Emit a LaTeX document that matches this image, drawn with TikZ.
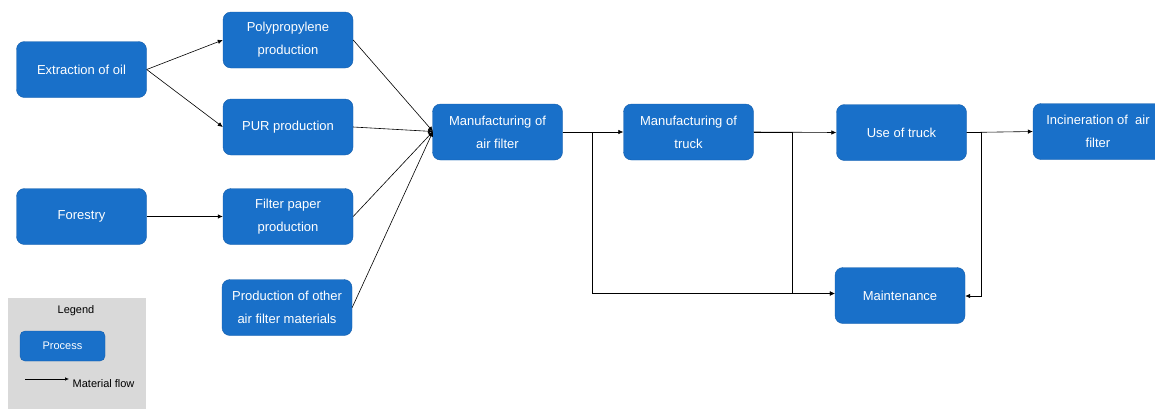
\documentclass[tikz,border=0pt]{standalone}
\usepackage{fontspec}
\setmainfont{Liberation Sans}
\usetikzlibrary{arrows.meta}
\definecolor{procfill}{RGB}{25,112,201}
\definecolor{procline}{RGB}{20,94,172}
\definecolor{legendgray}{RGB}{217,217,217}
\tikzset{
  process/.style={draw=procline, fill=procfill, rounded corners=8pt,
    minimum width=130pt, minimum height=56pt, text=white,
    font=\fontsize{13}{23}\selectfont, align=center, inner sep=2pt},
  flow/.style={draw=black, line width=0.6pt, -{Latex[length=5pt,width=4.5pt]}},
}
\begin{document}
\begin{tikzpicture}[x=1pt,y=-1pt]
\clip (0,0) rectangle (1155,408);
\fill[white] (0,0) rectangle (1155,408);

% legend panel
\fill[legendgray] (8,298) rectangle (146,410);
\node[font=\fontsize{11}{12}\selectfont] (legtitle) at (76,311) {Legend};
\node[process, minimum width=85pt, minimum height=30pt, rounded corners=5pt,
  font=\fontsize{11}{12}\selectfont] (legproc) at (62.5,346) {Process};
\coordinate (legA) at (25,379);
\coordinate (legB) at (69,379);
\draw[flow, -{Latex[length=4pt,width=3.5pt]}] (legA) -- (legB);
\node[anchor=west, font=\fontsize{11}{12}\selectfont, inner sep=0pt] (legflow) at (72.5,383.5) {Material flow};

% process boxes
\node[process] (oil)    at (81.5,69.5)  {Extraction of oil};
\node[process] (forest) at (81.5,216.5) {Forestry};
\node[process] (pp)     at (288,40)     {Polypropylene\\production};
\node[process] (pur)    at (288,127)    {PUR production};
\node[process] (paper)  at (288,216.5)  {Filter paper\\production};
\node[process] (other)  at (287,307.5)  {Production of other\\air filter materials};
\node[process] (afil)   at (497.5,132)  {Manufacturing of\\air filter};
\node[process] (truck)  at (688.5,132)  {Manufacturing of\\truck};
\node[process] (use)    at (901.5,132.5){Use of truck};
\node[process] (inc)    at (1098,131.5) {Incineration of \ air\\filter};
\node[process] (maint)  at (900,295.5)  {Maintenance};

% material flows
\coordinate (conv) at (433,131.5);
\draw[flow] (oil.east) -- (pp.west);
\draw[flow] (oil.east) -- (pur.west);
\draw[flow] (forest.east) -- (paper.west);
\draw[flow] (pp.east) -- (conv);
\draw[flow] (pur.east) -- (conv);
\draw[flow] (paper.east) -- (conv);
\draw[flow] (other.east) -- (conv);
\draw[flow] (afil.east) -- (truck.west);
\draw[flow] (afil.east) -| (592,293.5) -- (maint.west |- 0,293.5);
\draw[flow] (truck.east) -- (use.west);
\draw[flow] (truck.east) -| (792,293.5) -- (maint.west |- 0,293.5);
\draw[flow] (use.east) -- (inc.west);
\draw[flow] (use.east) -| (981.5,296) -- (maint.east |- 0,296);
\end{tikzpicture}
\end{document}
